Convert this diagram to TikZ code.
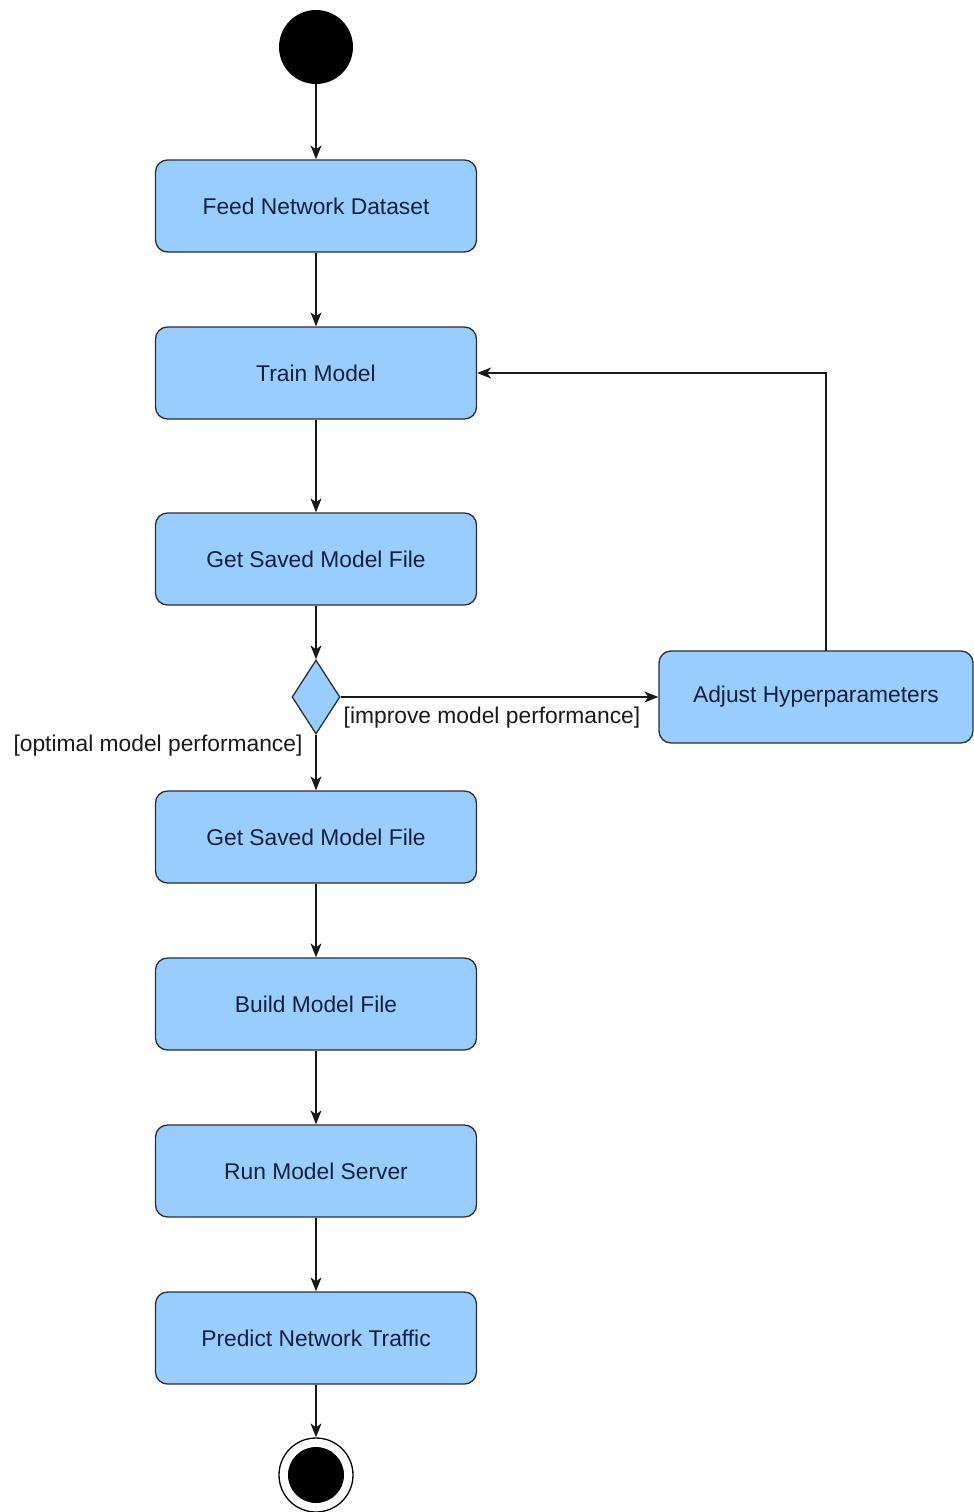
\documentclass[tikz,border=0pt]{standalone}
\usepackage{fontspec}
\setmainfont{Liberation Sans}
\usetikzlibrary{shapes.geometric,arrows.meta}
\definecolor{actfill}{HTML}{99CCFF}
\definecolor{actline}{HTML}{2B2E33}
\definecolor{acttext}{HTML}{14213D}
\tikzset{
  activity/.style={draw=actline, fill=actfill, line width=1.3pt, rounded corners=12pt,
    minimum width=321pt, minimum height=92pt, inner sep=0pt, text=acttext,
    font=\fontsize{22.8}{27}\selectfont},
  decision/.style={draw=actline, fill=actfill, line width=1.3pt, diamond, inner sep=0pt,
    minimum width=48pt, minimum height=74pt},
  initial/.style={circle, fill=black, minimum size=74pt, inner sep=0pt},
  finalouter/.style={circle, draw=black, line width=1.3pt, fill=white, minimum size=74pt, inner sep=0pt},
  finalinner/.style={circle, fill=black, minimum size=56pt, inner sep=0pt},
  guard/.style={inner sep=0pt, text=black!90, font=\fontsize{22.8}{27}\selectfont},
  flow/.style={draw=black!90, line width=1.3pt, -{Stealth[length=14pt,width=11pt,inset=4pt]}},
}
\begin{document}
\begin{tikzpicture}[x=1pt,y=-1pt]
  \useasboundingbox (0,0) rectangle (974,1512);

  % actions of the main flow
  \node[initial] (start) at (316,47) {};
  \node[activity] (feed) at (316,206) {Feed Network Dataset};
  \node[activity] (train) at (316,373) {Train Model};
  \node[activity] (saved1) at (316,559) {Get Saved Model File};
  \node[decision] (check) at (316,697) {};
  \node[activity] (saved2) at (316,837) {Get Saved Model File};
  \node[activity] (build) at (316,1004) {Build Model File};
  \node[activity] (serve) at (316,1171) {Run Model Server};
  \node[activity] (predict) at (316,1338) {Predict Network Traffic};
  \node[finalouter] (stop) at (316,1475) {};
  \node[finalinner] (stopdot) at (stop) {};

  % tuning branch
  \node[activity, minimum width=314pt] (tune) at (816,697) {Adjust Hyperparameters};
  \coordinate (tunetop) at (826,651);

  % guard labels
  \node[guard] (improve) at (492,718) {[improve model performance]};
  \node[guard] (optimal) at (158,746) {[optimal model performance]};

  % control flows
  \draw[flow] (start) -- (feed);
  \draw[flow] (feed) -- (train);
  \draw[flow] (train) -- (saved1);
  \draw[flow] (saved1) -- (check);
  \draw[flow] (check) -- (saved2);
  \draw[flow] (check) -- (tune);
  \draw[flow] (tunetop) |- (train.east);
  \draw[flow] (saved2) -- (build);
  \draw[flow] (build) -- (serve);
  \draw[flow] (serve) -- (predict);
  \draw[flow] (predict) -- (stop);
\end{tikzpicture}
\end{document}
